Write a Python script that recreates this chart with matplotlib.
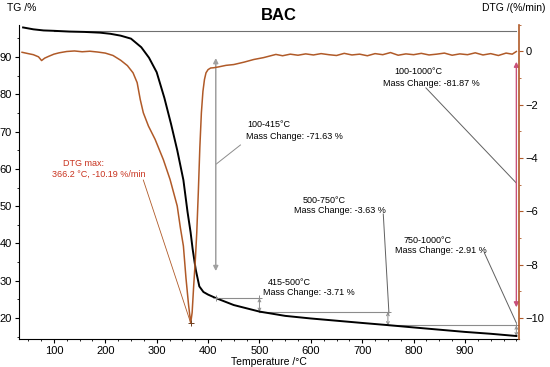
import numpy as np
import matplotlib.pyplot as plt
from matplotlib.ticker import MultipleLocator

plt.rcParams['font.family'] = ['Liberation Sans', 'DejaVu Sans']

# TG curve (mass %, left axis)
tg_temp = [40, 60, 80, 100, 130, 160, 190, 210, 230, 250, 270, 285, 300, 315, 328,
           340, 352, 360, 366, 370, 376, 383, 391, 400, 415, 450, 500, 550, 600,
           650, 700, 750, 800, 850, 900, 950, 1000]
tg_mass = [97.9, 97.4, 97.1, 97.0, 96.8, 96.7, 96.5, 96.2, 95.7, 94.9, 92.6, 89.8,
           85.9, 79.0, 72.0, 65.0, 57.0, 48.5, 43.0, 38.5, 33.0, 28.5, 27.0, 26.3,
           25.38, 23.5, 21.75, 20.6, 19.9, 19.3, 18.7, 18.12, 17.5, 16.9, 16.3,
           15.8, 15.2]

# DTG curve (%/min, right axis)
dtg_temp = [38, 50, 60, 70, 76, 82, 90, 100, 110, 125, 140, 155, 170, 185, 200, 215,
            230, 243, 254, 262, 268, 274, 284, 297, 313, 326, 333, 340, 346, 352,
            357, 362, 366.2, 369, 372, 375, 378, 381, 384, 387, 390, 393, 396, 400,
            405, 411, 420, 435, 450, 470, 489, 508, 532, 545, 560, 575, 590, 605,
            620, 635, 650, 665, 680, 695, 710, 725, 740, 755, 770, 785, 800, 815,
            830, 845, 860, 875, 890, 905, 920, 935, 950, 965, 980, 992, 1000]
dtg_rate = [-0.03, -0.08, -0.12, -0.2, -0.34, -0.25, -0.18, -0.1, -0.05, 0.0, 0.02,
            -0.01, 0.01, -0.02, -0.06, -0.15, -0.33, -0.53, -0.8, -1.17, -1.8, -2.3,
            -2.8, -3.3, -4.06, -4.8, -5.3, -5.8, -6.6, -7.3, -8.5, -9.5, -10.19,
            -9.8, -8.8, -7.9, -6.8, -5.3, -3.6, -2.3, -1.5, -1.05, -0.8, -0.68,
            -0.62, -0.61, -0.58, -0.52, -0.49, -0.4, -0.3, -0.23, -0.11, -0.16,
            -0.1, -0.14, -0.09, -0.13, -0.08, -0.12, -0.15, -0.07, -0.13, -0.1,
            -0.16, -0.08, -0.12, -0.04, -0.14, -0.09, -0.12, -0.07, -0.13, -0.1,
            -0.06, -0.14, -0.09, -0.12, -0.05, -0.13, -0.08, -0.15, -0.06, -0.1, 0.0]

# mass change steps
step_start = [100, 415, 500, 750]
step_end = [415, 500, 750, 1000]
step_change = [-71.63, -3.71, -3.63, -2.91]
total_change = -81.87
tg_at_100 = 97.0
dtg_peak_t, dtg_peak = 366.2, -10.19

brown = '#b05a28'
red = '#c8321e'
pink = '#c8507a'
grey = '#8c8c8c'

fig = plt.figure(figsize=(5.5, 3.67), dpi=100)
ax = fig.add_axes([0.0345, 0.0763, 0.909, 0.856])
ax2 = ax.twinx()

ax.plot(tg_temp, tg_mass, color='black', lw=1.4, zorder=5)
ax2.plot(dtg_temp, dtg_rate, color=brown, lw=1.1, zorder=5)

ax.set_xlim(32, 1005)
ax.set_ylim(14.4, 98.6)
ax2.set_ylim(-10.79, 1.0)

ax.xaxis.set_minor_locator(MultipleLocator(25))
ax.yaxis.set_minor_locator(MultipleLocator(5))
ax2.yaxis.set_minor_locator(MultipleLocator(1))
ax.set_xticks(range(100, 1000, 100))
ax.set_yticks(range(20, 100, 10))
ax2.set_yticks(range(-10, 1, 2))

for a in (ax, ax2):
    a.spines['top'].set_visible(False)
ax.spines['right'].set_visible(False)
ax2.spines['left'].set_visible(False)
ax2.spines['bottom'].set_visible(False)
ax2.spines['right'].set_color(brown)
ax2.spines['right'].set_linewidth(1.2)

ax.tick_params(which='major', length=3, width=0.8, labelsize=8, pad=2)
ax.tick_params(which='minor', length=1.5, width=0.6)
ax2.tick_params(which='major', length=3, width=0.8, labelsize=8, pad=2, color=brown)
ax2.tick_params(which='minor', length=1.5, width=0.6, color=brown)

ax.set_xlabel('Temperature /°C', fontsize=7.5, labelpad=1)
fig.text(7 / 550, 1 - 8 / 367, 'TG /%', fontsize=7.5, va='center', ha='left')
fig.text(546 / 550, 1 - 8 / 367, 'DTG /(%/min)', fontsize=7.5, va='center', ha='right')
fig.text(279 / 550, 1 - 15 / 367, 'BAC', fontsize=12, fontweight='bold', ha='center', va='center')

# level lines and step arrows
levels = [tg_at_100]
for c in step_change:
    levels.append(levels[-1] + c)
ax.plot([100, 1000], [tg_at_100, tg_at_100], color='#707070', lw=0.8, zorder=3)
for i in range(1, 4):
    ax.plot([step_start[i], step_end[i]], [levels[i], levels[i]], color=grey, lw=0.8, zorder=3)
    ax.annotate('', xy=(step_end[i], levels[i + 1]), xytext=(step_end[i], levels[i]),
                arrowprops=dict(arrowstyle='<->', color=grey, lw=0.7,
                                mutation_scale=5, shrinkA=0, shrinkB=0), zorder=4)
    ax.plot(step_end[i], levels[i], '+', color=grey, ms=4, mew=0.7, zorder=6)

ax.annotate('', xy=(415, 32.6), xytext=(415, 89.7),
            arrowprops=dict(arrowstyle='<|-|>', color='#a0a0a0', lw=1.1,
                            mutation_scale=7, shrinkA=0, shrinkB=0), zorder=4)
ax.annotate('', xy=(1000, 22.9), xytext=(1000, 88.7),
            arrowprops=dict(arrowstyle='<|-|>', color=pink, lw=1.0,
                            mutation_scale=7, shrinkA=0, shrinkB=0), zorder=4)
ax.plot(415, levels[1], '+', color=grey, ms=4, mew=0.7, zorder=6)

# labels and leader lines
fs = 6.5
ax.text(477, 71.8, '100-415°C', fontsize=fs, va='center')
ax.text(473, 68.6, f'Mass Change: {step_change[0]:.2f} %', fontsize=fs, va='center')
ax.plot([463, 416], [66.4, 61.3], color=grey, lw=0.7)

ax.text(762, 86.0, '100-1000°C', fontsize=fs, va='center')
ax.text(741, 83.0, f'Mass Change: {total_change:.2f} %', fontsize=fs, va='center')
ax.plot([824, 1000], [81.7, 56.2], color='#606060', lw=0.7)

ax.text(516, 29.6, '415-500°C', fontsize=fs, va='center')
ax.text(506, 26.8, f'Mass Change: {step_change[1]:.2f} %', fontsize=fs, va='center')

ax.text(584, 51.5, '500-750°C', fontsize=fs, va='center')
ax.text(567, 48.9, f'Mass Change: {step_change[2]:.2f} %', fontsize=fs, va='center')
ax.plot([741, 752], [47.9, 21.4], color='#606060', lw=0.7)

ax.text(780, 40.8, '750-1000°C', fontsize=fs, va='center')
ax.text(764, 38.2, f'Mass Change: {step_change[3]:.2f} %', fontsize=fs, va='center')
ax.plot([938, 1000], [37.4, 18.7], color='#606060', lw=0.7)

ax.text(118, 61.4, 'DTG max:', fontsize=fs, va='center', color=red)
ax.text(96, 58.6, f'{dtg_peak_t} °C, {dtg_peak} %/min', fontsize=fs, va='center', color=red)
ax.plot([274, dtg_peak_t], [57.0, 18.7], color=brown, lw=0.6)
ax2.plot(dtg_peak_t, dtg_peak, '+', color='#704020', ms=4, mew=0.7, zorder=6)

fig.savefig('out.png', dpi=100)
